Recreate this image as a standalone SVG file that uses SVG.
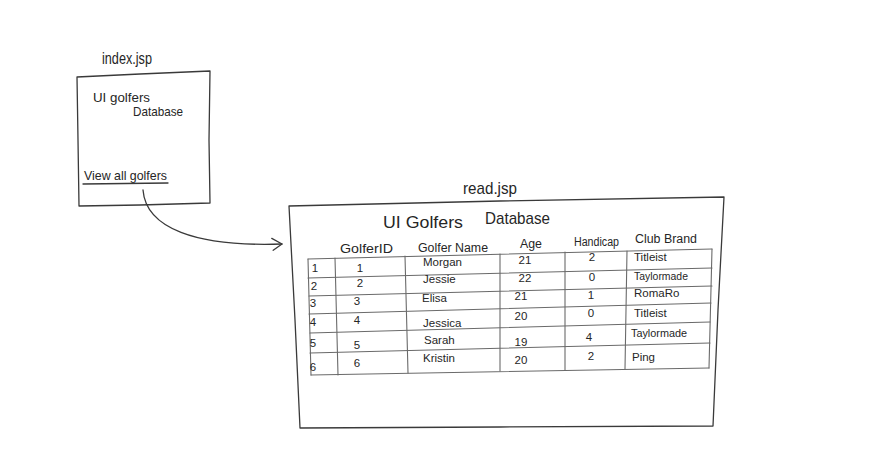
<svg xmlns="http://www.w3.org/2000/svg" width="871" height="461" viewBox="0 0 871 461">
<defs>
<style>
.ln{fill:none;stroke:#3a3a3a;stroke-width:1.3;stroke-linecap:round;stroke-linejoin:round}
.gl{fill:none;stroke:#6a6a6a;stroke-width:1.1;stroke-linecap:round}
text{font-family:"Liberation Sans","DejaVu Sans",sans-serif;fill:#262626}
.t1{font-size:17px}
.t2{font-size:13px}
.h{font-size:12.5px}
.c{font-size:11.5px}
.m{text-anchor:middle}
</style>
<marker id="arr" viewBox="0 0 12 14" refX="11" refY="7" markerWidth="12" markerHeight="14" markerUnits="userSpaceOnUse" orient="auto">
<path d="M1,1 L11,7 L2,13" fill="none" stroke="#3a3a3a" stroke-width="1.3" stroke-linecap="round" stroke-linejoin="round"/>
</marker>
</defs>
<rect width="871" height="461" fill="#ffffff"/>

<g id="index-page">
<text class="t1" x="127" y="64" text-anchor="middle" textLength="50" lengthAdjust="spacingAndGlyphs">index.jsp</text>
<path class="ln" d="M77,77 L140,74 L210,71 L209,140 L210,203 L140,205 L79,206 L78,140 Z"/>
<text class="t2" x="93" y="102" textLength="57" lengthAdjust="spacingAndGlyphs">UI golfers</text>
<text class="t2" x="133" y="116" textLength="50" lengthAdjust="spacingAndGlyphs">Database</text>
<text class="t2" x="84" y="180" textLength="83" lengthAdjust="spacingAndGlyphs">View all golfers</text>
<path class="ln" d="M83,184 L168,183"/>
</g>

<g id="read-page">
<text class="t1" x="490" y="194" text-anchor="middle" textLength="54" lengthAdjust="spacingAndGlyphs">read.jsp</text>
<path class="ln" d="M289,206 L500,201 L724,197 L718,310 L713,426 L500,427 L300,428 L295,320 Z"/>
<text class="t1" x="383" y="228" textLength="80" lengthAdjust="spacingAndGlyphs">UI Golfers</text>
<text class="t1" x="485" y="224" textLength="65" lengthAdjust="spacingAndGlyphs">Database</text>

<g id="table">
<text class="h" x="340" y="253" textLength="53" lengthAdjust="spacingAndGlyphs">GolferID</text>
<text class="h" x="418" y="252" textLength="70" lengthAdjust="spacingAndGlyphs">Golfer Name</text>
<text class="h" x="520" y="248" textLength="22" lengthAdjust="spacingAndGlyphs">Age</text>
<text class="h" x="574" y="246" textLength="45" lengthAdjust="spacingAndGlyphs">Handicap</text>
<text class="h" x="635" y="243" textLength="62" lengthAdjust="spacingAndGlyphs">Club Brand</text>

<path class="gl" d="M308,259 L712,249"/>
<path class="gl" d="M308,278 L712,268"/>
<path class="gl" d="M309,296 L712,286"/>
<path class="gl" d="M309,314 L711,303"/>
<path class="gl" d="M310,333 L710,322"/>
<path class="gl" d="M310,353 L710,343"/>
<path class="gl" d="M311,375 L709,368"/>
<path class="gl" d="M308,259 L311,375"/>
<path class="gl" d="M335,258 L338,375"/>
<path class="gl" d="M405,256 L408,373"/>
<path class="gl" d="M500,254 L500,371"/>
<path class="gl" d="M565,252 L565,370"/>
<path class="gl" d="M627,251 L625,369"/>
<path class="gl" d="M712,249 L709,368"/>

<g class="c">
<text x="315" y="272" class="m">1</text>
<text x="360" y="272" class="m">1</text>
<text x="423" y="266">Morgan</text>
<text x="525" y="264" class="m">21</text>
<text x="592" y="261" class="m">2</text>
<text x="634" y="261">Titleist</text>

<text x="314" y="290" class="m">2</text>
<text x="360" y="287" class="m">2</text>
<text x="423" y="283">Jessie</text>
<text x="525" y="282" class="m">22</text>
<text x="592" y="281" class="m">0</text>
<text x="634" y="280" textLength="54" lengthAdjust="spacingAndGlyphs">Taylormade</text>

<text x="313" y="307" class="m">3</text>
<text x="357" y="305" class="m">3</text>
<text x="422" y="302">Elisa</text>
<text x="521" y="300" class="m">21</text>
<text x="591" y="299" class="m">1</text>
<text x="634" y="297">RomaRo</text>

<text x="313" y="326" class="m">4</text>
<text x="357" y="324" class="m">4</text>
<text x="423" y="327">Jessica</text>
<text x="521" y="320" class="m">20</text>
<text x="591" y="317" class="m">0</text>
<text x="634" y="317">Titleist</text>

<text x="313" y="347" class="m">5</text>
<text x="357" y="349" class="m">5</text>
<text x="424" y="344">Sarah</text>
<text x="521" y="346" class="m">19</text>
<text x="589" y="341" class="m">4</text>
<text x="631" y="337" textLength="56" lengthAdjust="spacingAndGlyphs">Taylormade</text>

<text x="313" y="371" class="m">6</text>
<text x="357" y="367" class="m">6</text>
<text x="423" y="362">Kristin</text>
<text x="521" y="364" class="m">20</text>
<text x="591" y="360" class="m">2</text>
<text x="632" y="361">Ping</text>
</g>
</g>
</g>

<g id="connectors">
<path class="ln" d="M143,190 C146,228 195,247 282,244" marker-end="url(#arr)"/>
</g>
</svg>
